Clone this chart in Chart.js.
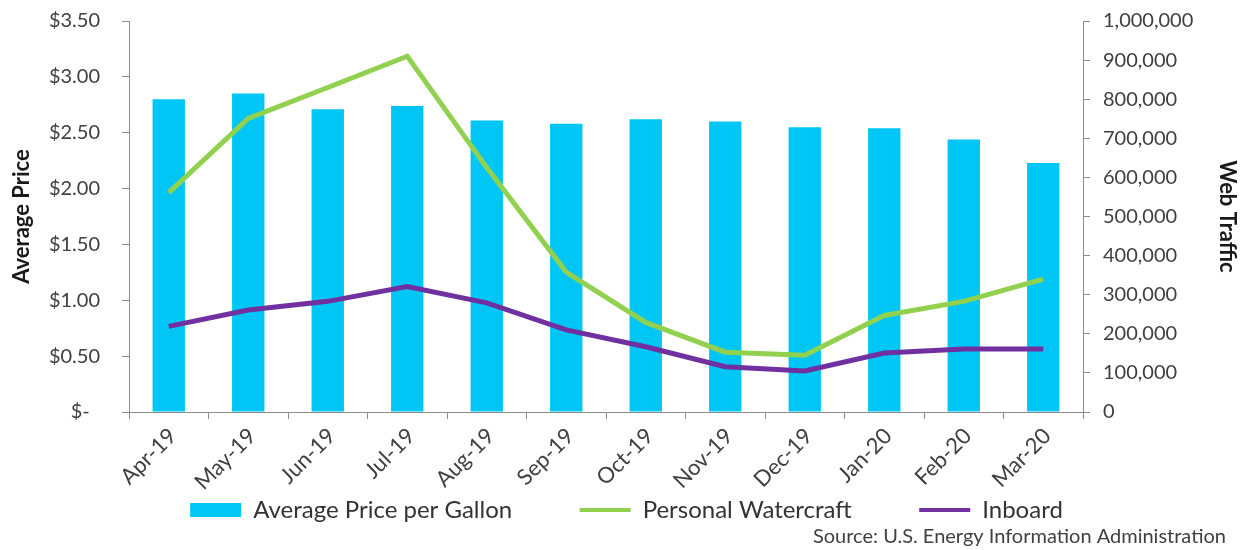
<!DOCTYPE html>
<html>
<head>
<meta charset="utf-8">
<title>Average Price vs Web Traffic</title>
<script src="https://cdn.jsdelivr.net/npm/chart.js@4.4.1/dist/chart.umd.min.js"></script>
<style>
  html, body { margin: 0; padding: 0; background: #ffffff; }
  #wrap { width: 1253px; height: 550px; position: relative; }
</style>
</head>
<body>
<div id="wrap"><canvas id="chart"></canvas></div>
<script>
// months on the x axis
const months = ['Apr-19', 'May-19', 'Jun-19', 'Jul-19', 'Aug-19', 'Sep-19',
                'Oct-19', 'Nov-19', 'Dec-19', 'Jan-20', 'Feb-20', 'Mar-20'];

// average price per gallon ($), left axis
const avgPrice = [2.80, 2.85, 2.71, 2.74, 2.61, 2.58, 2.62, 2.60, 2.55, 2.54, 2.44, 2.23];

// web traffic, right axis
const personalWatercraft = [561000, 751000, 830000, 910000, 625000, 358000,
                            229000, 153000, 145000, 247000, 283000, 340000];
const inboard = [219000, 261000, 283000, 321000, 279000, 210000,
                 167000, 116000, 105000, 151000, 161000, 161000];

const sourceText = 'Source: U.S. Energy Information Administration';

const FONT = 'Lato';
const axisGray = '#8c8c8c';
const textGray = '#404040';

// little note under the legend, bottom right
const sourceNote = {
  id: 'sourceNote',
  afterDraw(chart) {
    const ctx = chart.ctx;
    ctx.save();
    ctx.font = '20px ' + FONT;
    ctx.fillStyle = textGray;
    ctx.textAlign = 'right';
    ctx.textBaseline = 'middle';
    ctx.fillText(sourceText, chart.width - 27, chart.height - 13);
    ctx.restore();
  }
};

// y axes: fixed width, and don't let tick padding push the plot down
function fixY(width) {
  return scale => {
    scale.width = width;
    scale.paddingTop = 0;
    scale.paddingBottom = 0;
  };
}

const ctx = document.getElementById('chart').getContext('2d');
new Chart(ctx, {
  type: 'bar',
  data: {
    labels: months,
    datasets: [
      {
        type: 'bar',
        label: 'Average Price per Gallon',
        data: avgPrice,
        backgroundColor: '#00c6f6',
        yAxisID: 'y',
        categoryPercentage: 1,
        barPercentage: 0.407,
        order: 3
      },
      {
        type: 'line',
        label: 'Personal Watercraft',
        data: personalWatercraft,
        borderColor: '#92d050',
        backgroundColor: '#92d050',
        borderWidth: 5,
        pointRadius: 0,
        tension: 0,
        yAxisID: 'y2',
        order: 1
      },
      {
        type: 'line',
        label: 'Inboard',
        data: inboard,
        borderColor: '#7030a0',
        backgroundColor: '#7030a0',
        borderWidth: 5,
        pointRadius: 0,
        tension: 0,
        yAxisID: 'y2',
        order: 2
      }
    ]
  },
  options: {
    responsive: true,
    maintainAspectRatio: false,
    animation: false,
    layout: { padding: { top: 21, left: 0, right: 0, bottom: 18 } },
    plugins: {
      tooltip: { enabled: false },
      legend: {
        position: 'bottom',
        labels: {
          font: { family: FONT, size: 24 },
          color: '#333333',
          usePointStyle: true,
          boxWidth: 51,
          boxHeight: 14,
          pointStyleWidth: 51,
          padding: 6,
          // keep dataset order (bar, then lines), draw lines as strokes,
          // and pad the text so the items sit apart like the original
          generateLabels(chart) {
            const n = chart.data.datasets.length;
            return chart.data.datasets.map((ds, i) => ({
              text: i < n - 1 ? ds.label + ' '.repeat(10) : ds.label,
              datasetIndex: i,
              fillStyle: ds.backgroundColor,
              strokeStyle: ds.type === 'line' ? ds.borderColor : ds.backgroundColor,
              lineWidth: ds.type === 'line' ? 4 : 0,
              pointStyle: ds.type === 'line' ? 'line' : 'rect',
              fontColor: '#333333',
              hidden: false
            }));
          }
        }
      }
    },
    scales: {
      x: {
        grid: { display: true, drawOnChartArea: false, drawTicks: true, tickLength: 7, color: axisGray, offset: true },
        border: { display: true, color: axisGray, width: 1 },
        ticks: {
          font: { family: FONT, size: 22 },
          color: textGray,
          minRotation: 45,
          maxRotation: 45,
          autoSkip: false,
          labelOffset: 4,
          padding: 4
        },
        afterFit(scale) { scale.height = 80; }
      },
      y: {
        position: 'left',
        min: 0,
        max: 3.5,
        ticks: {
          stepSize: 0.5,
          font: { family: FONT, size: 20 },
          color: textGray,
          padding: 22,
          callback: v => v === 0 ? '$-  ' : '$' + Number(v).toFixed(2)
        },
        grid: { display: true, drawOnChartArea: false, drawTicks: true, tickLength: 7, color: axisGray },
        border: { display: true, color: axisGray, width: 1 },
        title: {
          display: true,
          text: 'Average Price',
          font: { family: FONT, size: 22, weight: 'bold' },
          color: '#1a1a1a',
          padding: { top: 9, bottom: 0 }
        },
        afterFit: fixY(129)
      },
      y2: {
        position: 'right',
        min: 0,
        max: 1000000,
        ticks: {
          stepSize: 100000,
          font: { family: FONT, size: 20 },
          color: textGray,
          padding: 13,
          callback: v => Number(v).toLocaleString('en-US')
        },
        grid: { display: true, drawOnChartArea: false, drawTicks: true, tickLength: 7, color: axisGray },
        border: { display: true, color: axisGray, width: 1 },
        title: {
          display: true,
          text: 'Web Traffic',
          font: { family: FONT, size: 22, weight: 'bold' },
          color: '#1a1a1a',
          padding: { top: 13, bottom: 0 }
        },
        afterFit: fixY(170)
      }
    }
  },
  plugins: [sourceNote]
});
</script>
</body>
</html>
